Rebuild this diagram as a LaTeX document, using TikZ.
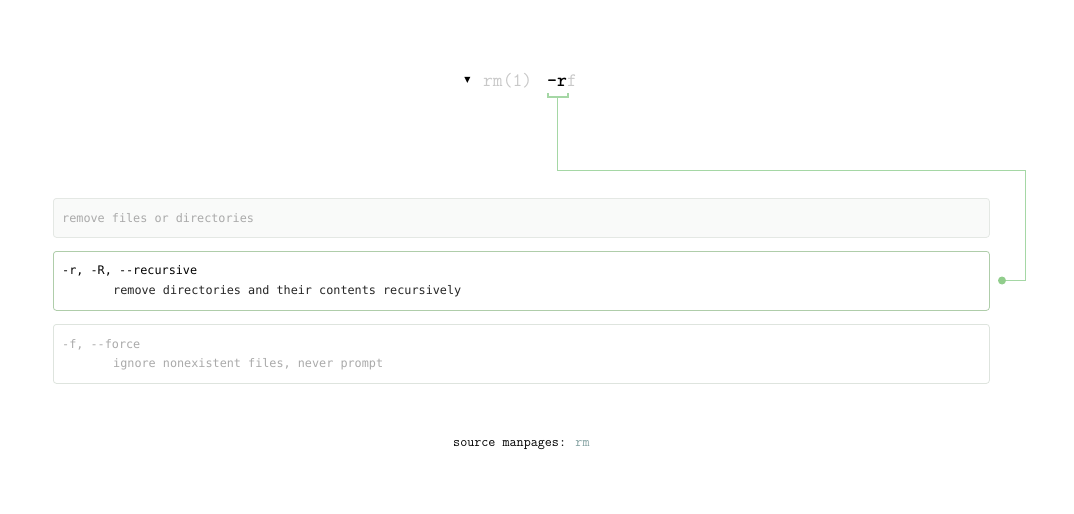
\documentclass[tikz,border=0pt]{standalone}
\usepackage{fontspec}
\setmainfont{Liberation Serif}
\newfontfamily\cour{Latin Modern Mono}
\newfontfamily\courb{lmmonolt10-bold}[Extension=.otf]
\newfontfamily\boxmono{DejaVu Sans Mono}
\newfontfamily\symfont{DejaVu Sans}
\definecolor{linkgreen}{RGB}{165,215,165}
\definecolor{dotgreen}{RGB}{145,205,140}
\definecolor{faint}{RGB}{200,200,200}
\definecolor{boxfill}{RGB}{249,250,249}
\definecolor{boxedge}{RGB}{228,232,228}
\definecolor{seledge}{RGB}{175,205,170}
\definecolor{faintedge}{RGB}{222,228,222}
\definecolor{greytext}{RGB}{170,170,170}
\definecolor{srccol}{RGB}{130,160,160}
\tikzset{
  optbox/.style={draw, rounded corners=3pt, line width=0.8pt, minimum width=936pt, minimum height=39pt, inner sep=0pt},
  boxtext/.style={anchor=west, inner sep=0pt, font=\boxmono\fontsize{11.8}{14}\selectfont},
  conn/.style={draw=linkgreen, line width=1.1pt}
}
\begin{document}
\begin{tikzpicture}[x=1pt,y=-1pt]
\useasboundingbox (0,0) rectangle (1074,514);
% header
\node[anchor=center, inner sep=0pt, font=\symfont\fontsize{8}{10}\selectfont] (tri) at (467.5,80.5) {▼};
\node[anchor=west, inner sep=0pt, text=faint, font=\cour\fontsize{19}{21}\selectfont] (rm) at (483,81) {rm(1)};
\node[anchor=west, inner sep=0pt, font=\fontsize{19}{21}\selectfont] (rf) at (547,81) {{\courb -r}{\cour\textcolor{faint}{f}}};
% boxes
\node[optbox, fill=boxfill, draw=boxedge, anchor=north west] (b1) at (53,198) {};
\node[boxtext, text=greytext] (t1) at (62,218) {remove files or directories};
\node[optbox, fill=white, draw=seledge, anchor=north west, minimum height=59pt] (b2) at (53,251) {};
\node[boxtext, text=black] (t2a) at (62,271) {-r, -R, --recursive};
\node[boxtext, text=black!85] (t2b) at (113,291.5) {remove directories and their contents recursively};
\node[optbox, fill=white, draw=faintedge, anchor=north west, minimum height=59pt] (b3) at (53,324) {};
\node[boxtext, text=greytext] (t3a) at (62,344.5) {-f, --force};
\node[boxtext, text=greytext] (t3b) at (113,364.5) {ignore nonexistent files, never prompt};
% connector
\coordinate (brl) at (548,93);
\coordinate (brr) at (568,93);
\coordinate (brm) at (557.5,97);
\coordinate (dot) at (1002,280.5);
\draw[conn] (brl) -- (548,97) -- (568,97) -- (brr);
\draw[conn] (brm) -- (557.5,170.5) -- (1025.5,170.5) -- (1025.5,280.5) -- (dot);
\fill[dotgreen] (dot) circle (4pt);
% footer
\node[anchor=west, inner sep=0pt, font=\cour\fontsize{13.7}{15}\selectfont] (src) at (453,445.5) {source manpages: \textcolor{srccol}{rm}};
\end{tikzpicture}
\end{document}
